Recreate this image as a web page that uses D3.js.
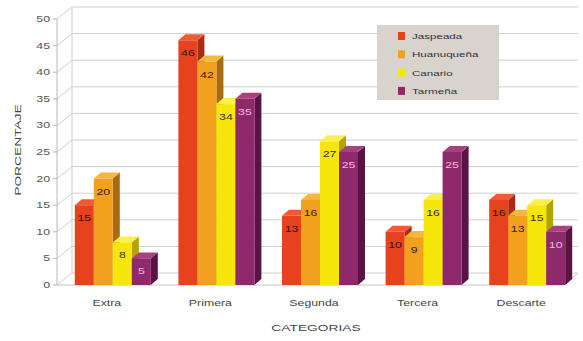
<!DOCTYPE html>
<html>
<head>
<meta charset="utf-8">
<script src="https://cdn.jsdelivr.net/npm/d3@7"></script>
<style>
  html, body { margin: 0; padding: 0; background: #ffffff; }
  svg { display: block; font-family: "Liberation Sans", Arial, sans-serif; }
</style>
</head>
<body>
<svg id="chart" width="583" height="341"></svg>
<script>
// Categories and series
const categories = ["Extra", "Primera", "Segunda", "Tercera", "Descarte"];
const seriesNames = ["Jaspeada", "Huanuqueña", "Canario", "Tarmeña"];
const jaspeada   = [15, 46, 13, 10, 16];
const huanuquena = [20, 42, 16, 9, 13];
const canario    = [8, 34, 27, 16, 15];
const tarmena    = [5, 35, 25, 25, 10];
const yTicks = [0, 5, 10, 15, 20, 25, 30, 35, 40, 45, 50];

const seriesValues = [jaspeada, huanuquena, canario, tarmena];
const frontColors = ["#e5421d", "#f2a11f", "#f7e60c", "#8e2a6c"];
const sideColors  = ["#a82c12", "#a86c10", "#b3a400", "#5a1444"];
const topColors   = ["#ee5a34", "#f6b640", "#fbef50", "#a8427f"];
const labelColors = ["#3a1505", "#3a2005", "#3a3000", "#f0b8de"];

// Text in this chart is drawn horizontally widened
const stretch = 1.45;

const svg = d3.select("#chart");

// Wall depth offset and bar depth offset
const wallDx = 15, wallDy = -12;
const barDx = 7, barDy = -6;

const y = d3.scaleLinear().domain([0, 50]).range([285, 19]);
const x = d3.scaleBand().domain(categories).range([57, 575]);
const xi = d3.scaleBand().domain(seriesNames).range([0, 76]);

function wideText(parent, tx, ty, str, opts) {
  const t = parent.append("text")
    .attr("transform", `translate(${tx},${ty})${opts.rotate ? ` rotate(${opts.rotate})` : ""} scale(${stretch},1)`)
    .attr("text-anchor", opts.anchor || "start")
    .attr("font-size", opts.size)
    .attr("fill", opts.fill)
    .text(str);
  return t;
}

const gridColor = "#cfcfcf";
const wallLeft = 57 + wallDx, wallRight = 578;

// Back wall gridlines
svg.append("g").selectAll("line").data(yTicks).join("line")
  .attr("x1", wallLeft).attr("x2", wallRight)
  .attr("y1", d => y(d) + wallDy).attr("y2", d => y(d) + wallDy)
  .attr("stroke", gridColor).attr("stroke-width", 1);

// Left side wall diagonals
svg.append("g").selectAll("line").data(yTicks).join("line")
  .attr("x1", 57).attr("x2", wallLeft)
  .attr("y1", d => y(d)).attr("y2", d => y(d) + wallDy)
  .attr("stroke", gridColor).attr("stroke-width", 1);

// Back wall left edge
svg.append("line")
  .attr("x1", wallLeft).attr("x2", wallLeft)
  .attr("y1", y(50) + wallDy).attr("y2", y(0) + wallDy)
  .attr("stroke", gridColor);

// Front vertical axis and floor edge
svg.append("line")
  .attr("x1", 57).attr("x2", 57).attr("y1", y(50)).attr("y2", y(0))
  .attr("stroke", "#b8b8b8");
svg.append("line")
  .attr("x1", 57).attr("x2", wallRight - wallDx).attr("y1", y(0)).attr("y2", y(0))
  .attr("stroke", "#c4c4c4");
svg.append("line")
  .attr("x1", wallRight - wallDx).attr("x2", wallRight)
  .attr("y1", y(0)).attr("y2", y(0) + wallDy)
  .attr("stroke", "#c4c4c4");

// Y tick marks and labels
const yAxis = svg.append("g");
yAxis.selectAll("line").data(yTicks).join("line")
  .attr("x1", 53).attr("x2", 57)
  .attr("y1", d => y(d)).attr("y2", d => y(d))
  .attr("stroke", "#b8b8b8");
yTicks.forEach(d => wideText(yAxis, 50, y(d) + 3, d, { anchor: "end", size: 8.5, fill: "#555" }));

// Bars
const bars = svg.append("g");
categories.forEach((cat, ci) => {
  const gx = x(cat) + x.bandwidth() / 2 - 38 + 4;
  seriesNames.forEach((s, si) => {
    const v = seriesValues[si][ci];
    const x0 = gx + xi(s), w = xi.bandwidth();
    const y0 = y(v), yb = y(0);
    const g = bars.append("g");
    // side face
    g.append("path")
      .attr("d", `M${x0 + w},${yb} L${x0 + w + barDx},${yb + barDy} L${x0 + w + barDx},${y0 + barDy} L${x0 + w},${y0} Z`)
      .attr("fill", sideColors[si]);
    // top face
    g.append("path")
      .attr("d", `M${x0},${y0} L${x0 + barDx},${y0 + barDy} L${x0 + w + barDx},${y0 + barDy} L${x0 + w},${y0} Z`)
      .attr("fill", topColors[si]);
    // front face
    g.append("rect")
      .attr("x", x0).attr("y", y0).attr("width", w).attr("height", yb - y0)
      .attr("fill", frontColors[si]);
    // value label
    wideText(g, x0 + w / 2, y0 + 16, v, { anchor: "middle", size: 8.5, fill: labelColors[si] });
  });
});

// Category labels
const catG = svg.append("g");
categories.forEach(d => wideText(catG, x(d) + x.bandwidth() / 2 - 2, 306, d, { anchor: "middle", size: 8.5, fill: "#444" }));

// Axis titles
wideText(svg, 316, 331, "CATEGORIAS", { anchor: "middle", size: 9.5, fill: "#444" });
wideText(svg, 21, 150, "PORCENTAJE", { anchor: "middle", size: 9.5, fill: "#444", rotate: -90 });

// Legend
const legend = svg.append("g").attr("transform", "translate(377,25)");
legend.append("rect")
  .attr("width", 122).attr("height", 75)
  .attr("fill", "#d9d3ce");
seriesNames.forEach((s, i) => {
  const ly = 11 + i * 18.3;
  legend.append("rect")
    .attr("x", 21).attr("y", ly - 4).attr("width", 7).attr("height", 8)
    .attr("fill", frontColors[i]);
  wideText(legend, 35, ly + 3, s, { size: 8, fill: "#333" });
});
</script>
</body>
</html>
